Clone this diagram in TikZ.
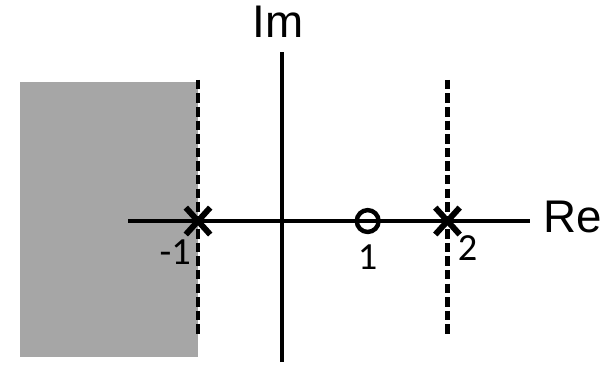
\documentclass[tikz,border=0pt]{standalone}
\usepackage{fontspec}
\setmainfont{Liberation Sans}
\newfontfamily\plnum{Carlito}
\usepackage{tikz}
\usetikzlibrary{positioning,shapes.misc}
\definecolor{plshade}{RGB}{166,166,166}
\definecolor{plline}{RGB}{0,0,0}
\tikzset{
  plAxis/.style={draw=plline, line width=1.25pt},
  plDash/.style={draw=plline, line width=1.5pt, dash pattern=on 3.2pt off 1.4pt},
  plPole/.style={cross out, draw=plline, line width=2pt, minimum width=0.22cm,
                 minimum height=0.25cm, inner sep=0pt},
  plZero/.style={circle, draw=plline, line width=1.5pt, minimum size=0.26cm,
                 inner sep=0pt},
  plAxisLabel/.style={font=\fontsize{15.5}{18}\selectfont, inner sep=0pt},
  plTick/.style={font=\plnum\fontsize{13}{15}\selectfont, inner sep=0pt}
}
\begin{document}
\begin{tikzpicture}[x=1cm,y=1cm]
  \useasboundingbox (-3.357,-1.726) rectangle (3.964,2.631);
  % unstable half plane
  \fill[plshade] (-3.12,-1.62) rectangle (-1.0,1.655);

  % axes
  \coordinate (reL) at (-1.83,0);
  \coordinate (reR) at (2.95,0);
  \coordinate (imB) at (0,-1.68);
  \coordinate (imT) at (0,2.01);
  \draw[plAxis] (reL) -- (reR);
  \draw[plAxis] (imB) -- (imT);
  \node[plAxisLabel, anchor=west] (reLab) at (3.107,0.05) {Re};
  \node[plAxisLabel] (imLab) at (-0.05,2.37) {Im};

  % boundaries through the poles
  \coordinate (d1T) at (-1.0,1.68);
  \coordinate (d1B) at (-1.0,-1.36);
  \coordinate (d2T) at (1.97,1.68);
  \coordinate (d2B) at (1.97,-1.36);
  \draw[plDash] (d1T) -- (d1B);
  \draw[plDash] (d2T) -- (d2B);

  % poles and zero
  \node[plPole] (poleA) at (-1.0,0) {};
  \node[plPole] (poleB) at (1.97,0) {};
  \node[plZero] (zeroA) at (1.02,0) {};

  \node[plTick] (labA) at (-1.27,-0.37) {-1};
  \node[plTick] (labZ) at (1.02,-0.43) {1};
  \node[plTick] (labB) at (2.21,-0.32) {2};
\end{tikzpicture}
\end{document}
